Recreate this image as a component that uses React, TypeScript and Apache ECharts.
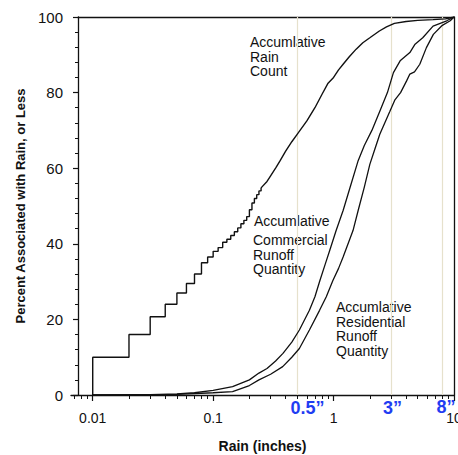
import React, { useEffect, useRef } from 'react';
import * as echarts from 'echarts';

// ---- data (rain in inches, percent) ----
const xAxisMin = 0.0066;
const xAxisMax = 10;
const xMajorTicks = [0.01, 0.1, 1, 10];
const xMajorLabels = ['0.01', '0.1', '1', '10'];
const xMinorTicks = [
  0.007, 0.008, 0.009,
  0.02, 0.03, 0.04, 0.05, 0.06, 0.07, 0.08, 0.09,
  0.2, 0.3, 0.4, 0.5, 0.6, 0.7, 0.8, 0.9,
  2, 3, 4, 5, 6, 7, 8, 9,
];
const yTicks = [0, 20, 40, 60, 80, 100];
const refLines = [0.5, 3, 8];
const refLabels = ['0.5\u201D', '3\u201D', '8\u201D'];

// Accumlative Rain Count: stepped part (0.01" resolution)
const rainStepX = [0.01, 0.01, 0.02, 0.03, 0.04, 0.05, 0.06, 0.07, 0.08, 0.09, 0.1, 0.11, 0.12, 0.13, 0.14, 0.15, 0.16, 0.17, 0.18, 0.19, 0.2, 0.21, 0.22, 0.23, 0.24, 0.25];
const rainStepY = [0, 10, 16, 20.7, 24, 27, 29.5, 32, 35, 36.5, 38, 39, 40.4, 41.2, 42.2, 43.2, 44.2, 45.3, 46.2, 47.2, 49, 50.8, 52, 53, 54, 54.8];
// Accumlative Rain Count: upper part
const rainCurveX = [0.25, 0.28, 0.3, 0.333, 0.36, 0.4, 0.45, 0.5, 0.6, 0.7, 0.8, 0.9, 1.0, 1.1, 1.2, 1.35, 1.54, 1.75, 2.0, 2.4, 2.75, 3.2, 4, 5, 6.7, 8.5, 10];
const rainCurveY = [54.8, 56.5, 58, 60.2, 62, 64.5, 67, 69, 72.5, 76, 79.5, 82.5, 84, 86, 87.5, 89.5, 91.5, 93.2, 94.5, 96.3, 97.4, 98.3, 98.8, 99.1, 99.3, 99.5, 100];

// Accumlative Commercial Runoff Quantity
const commercialX = [0.01, 0.03, 0.05, 0.07, 0.1, 0.145, 0.2, 0.24, 0.28, 0.33, 0.38, 0.45, 0.52, 0.63, 0.7, 0.77, 0.85, 0.93, 1.05, 1.2, 1.4, 1.6, 1.8, 2.08, 2.43, 2.8, 3.14, 3.57, 4.3, 4.75, 5.5, 6.7, 8.7, 10];
const commercialY = [0, 0.1, 0.3, 0.6, 1.2, 2.2, 4, 5.8, 7, 9, 11, 14, 17.2, 22.4, 26, 30.3, 34.5, 38.3, 43.5, 48.8, 55.9, 62, 66, 70, 75.2, 80, 85.3, 88.4, 90.6, 92.8, 94.5, 97.6, 99, 100];

// Accumlative Residential Runoff Quantity
const residentialX = [0.01, 0.05, 0.1, 0.145, 0.2, 0.24, 0.3, 0.378, 0.45, 0.52, 0.63, 0.765, 0.87, 0.987, 1.1, 1.2, 1.45, 1.6, 1.8, 2.0, 2.2, 2.42, 2.93, 3.22, 3.6, 4.04, 4.3, 4.7, 5.2, 5.9, 6.74, 8, 9.3, 10];
const residentialY = [0, 0.15, 0.6, 0.9, 2.5, 4, 5.5, 7.5, 10, 12.3, 17.2, 22.4, 26, 30.3, 33.5, 36.5, 43.5, 48.8, 55, 61, 65, 69, 75, 78, 80, 83.1, 84.9, 85.5, 87.5, 91.9, 95.4, 97.8, 99, 100];

const lg = (v: number) => Math.log10(v);
const pairs = (xs: number[], ys: number[]) => xs.map((x, i) => [lg(x), ys[i]]);

const FONT = '"Liberation Sans", Arial, sans-serif';
const INK = '#111';

export default function App() {
  const ref = useRef<HTMLDivElement>(null);
  useEffect(() => {
    if (!ref.current) return;
    const chart = echarts.init(ref.current, undefined, { renderer: 'svg' });
    const lineStyle = { color: INK, width: 1.4 };
    const annot = (text: string, x: number, y: number) => ({
      type: 'text',
      x,
      y,
      silent: true,
      style: {
        text,
        fill: INK,
        fontSize: 14,
        fontFamily: FONT,
        lineHeight: 14.5,
        verticalAlign: 'top',
        align: 'left',
      },
    });
    chart.setOption({
      animation: false,
      backgroundColor: '#fff',
      grid: [
        { left: 71, right: 4, top: 17, bottom: 60, outerBoundsMode: 'none', containLabel: false },
        { left: 78, right: 4, top: 17, bottom: 60, outerBoundsMode: 'none', containLabel: false },
      ],
      xAxis: [
        {
          type: 'value',
          gridIndex: 0,
          min: lg(xAxisMin),
          max: lg(xAxisMax),
          name: 'Rain (inches)',
          nameLocation: 'middle',
          nameGap: 44,
          nameTextStyle: { fontSize: 14, fontWeight: 'bold', color: INK, fontFamily: FONT },
          axisLine: { show: true, onZero: false, lineStyle: { color: INK, width: 1.3 } },
          axisTick: { show: true, length: 6, customValues: xMajorTicks.map(lg), lineStyle: { color: INK, width: 1.2 } },
          axisLabel: {
            show: true,
            customValues: xMajorTicks.map(lg),
            margin: 16,
            fontSize: 14,
            color: INK,
            fontFamily: FONT,
            hideOverlap: false,
            formatter: (v: number) => {
              const i = xMajorTicks.findIndex((t) => Math.abs(lg(t) - v) < 1e-6);
              return i >= 0 ? xMajorLabels[i] : '';
            },
          },
          splitLine: { show: false },
        },
        {
          type: 'value',
          gridIndex: 0,
          position: 'bottom',
          min: lg(xAxisMin),
          max: lg(xAxisMax),
          axisLine: { show: false, onZero: false },
          axisTick: { show: true, length: 4, customValues: xMinorTicks.map(lg), lineStyle: { color: INK, width: 1 } },
          axisLabel: { show: false },
          splitLine: { show: false },
        },
        {
          type: 'value',
          gridIndex: 1,
          position: 'top',
          min: 0,
          max: 1,
          axisLine: { show: true, onZero: false, lineStyle: { color: INK, width: 1.3 } },
          axisTick: { show: false },
          axisLabel: { show: false },
          splitLine: { show: false },
        },
      ],
      yAxis: [
        {
          type: 'value',
          gridIndex: 0,
          min: 0,
          max: 100,
          interval: 20,
          offset: -7,
          name: 'Percent Associated with Rain, or Less',
          nameLocation: 'middle',
          nameGap: 48,
          nameTextStyle: { fontSize: 13, fontWeight: 'bold', color: INK, fontFamily: FONT },
          axisLine: { show: true, onZero: false, lineStyle: { color: INK, width: 1.3 } },
          axisTick: { show: true, length: 5, lineStyle: { color: INK, width: 1.2 } },
          minorTick: { show: true, splitNumber: 5, length: 3, lineStyle: { color: INK, width: 1 } },
          axisLabel: {
            margin: 15,
            fontSize: 15,
            color: INK,
            fontFamily: FONT,
            customValues: yTicks,
          },
          splitLine: { show: false },
        },
        {
          type: 'value',
          gridIndex: 1,
          position: 'right',
          min: 0,
          max: 1,
          axisLine: { show: true, onZero: false, lineStyle: { color: INK, width: 1.3 } },
          axisTick: { show: false },
          axisLabel: { show: false },
          splitLine: { show: false },
        },
      ],
      series: [
        {
          type: 'line',
          name: 'Accumlative Rain Count (steps)',
          xAxisIndex: 0,
          yAxisIndex: 0,
          data: pairs(rainStepX, rainStepY),
          step: 'end',
          symbol: 'none',
          lineStyle,
          z: 3,
          markLine: {
            silent: true,
            symbol: 'none',
            lineStyle: { color: '#e6e1cc', width: 1.2, type: 'solid' },
            data: refLines.map((v, i) => ({
              xAxis: lg(v),
              label: {
                show: true,
                position: 'start',
                distance: 4,
                formatter: refLabels[i],
                offset: [[10, 0], [1, 0], [4, -1]][i],
                color: '#1f3df2',
                fontSize: 18,
                fontWeight: 'bold',
                fontFamily: FONT,
              },
            })),
            z: 1,
          },
        },
        {
          type: 'line',
          name: 'Accumlative Rain Count',
          data: pairs(rainCurveX, rainCurveY),
          symbol: 'none',
          lineStyle,
          z: 3,
        },
        {
          type: 'line',
          name: 'Accumlative Commercial Runoff Quantity',
          data: pairs(commercialX, commercialY),
          symbol: 'none',
          lineStyle: { color: INK, width: 1.3 },
          z: 3,
        },
        {
          type: 'line',
          name: 'Accumlative Residential Runoff Quantity',
          data: pairs(residentialX, residentialY),
          symbol: 'none',
          lineStyle: { color: INK, width: 1.3 },
          z: 3,
        },
      ],
      graphic: [
        annot('Accumlative\nRain\nCount', 250, 35),
        annot('Accumlative', 254, 214),
        annot('Commercial\nRunoff\nQuantity', 253, 233),
        annot('Accumlative\nResidential\nRunoff\nQuantity', 336, 300),
      ],
    });
    return () => chart.dispose();
  }, []);
  return (
    <div
      ref={ref}
      style={{ position: 'fixed', left: 0, top: 0, width: 458, height: 455, background: '#fff' }}
    />
  );
}
